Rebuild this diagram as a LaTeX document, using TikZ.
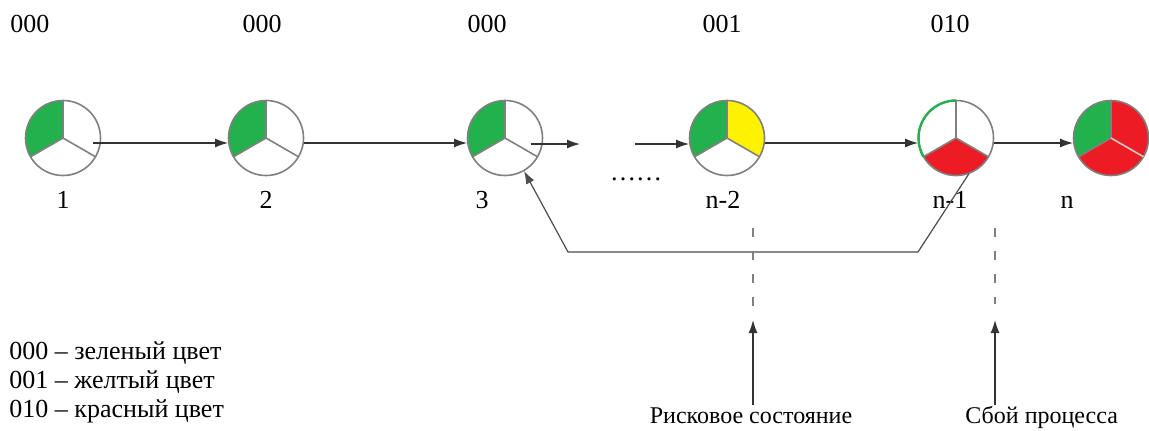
\documentclass[tikz,border=0pt]{standalone}
\usepackage{fontspec}
\setmainfont{Liberation Serif}
\usetikzlibrary{arrows.meta}
\definecolor{stgreen}{RGB}{34,177,76}
\definecolor{stred}{RGB}{237,28,36}
\definecolor{styellow}{RGB}{255,242,0}
\tikzset{state/.style={circle, minimum size=37.5pt, inner sep=0pt}, arr/.style={-{Latex[length=6.5pt,width=4.5pt]}, black!80, line width=0.7pt}, rim/.style={gray, line width=0.8pt}, txt/.style={font=\fontsize{13}{15}\selectfont, inner sep=0pt, anchor=base}, note/.style={font=\fontsize{12}{14}\selectfont, inner sep=0pt, anchor=base}, cut/.style={gray, line width=0.7pt, dash pattern=on 4.5pt off 7pt}}

\begin{document}
\begin{tikzpicture}[x=0.5pt,y=-0.5pt]
    \def\rad{18.75pt}
    \useasboundingbox (0,0) rectangle (1149,430);
    \node [state] (s1) at (63,138) {};
    \node [state] (s2) at (266,138) {};
    \node [state] (s3) at (505,138) {};
    \node [state] (s4) at (727,138) {};
    \node [state] (s5) at (956,138) {};
    \node [state] (s6) at (1111,138) {};
    \fill [stgreen] (s1.center) -- ++(90:\rad) arc[start angle=90, end angle=210, radius=\rad] -- cycle;
    \fill [stgreen] (s2.center) -- ++(90:\rad) arc[start angle=90, end angle=210, radius=\rad] -- cycle;
    \fill [stgreen] (s3.center) -- ++(90:\rad) arc[start angle=90, end angle=210, radius=\rad] -- cycle;
    \fill [stgreen] (s4.center) -- ++(90:\rad) arc[start angle=90, end angle=210, radius=\rad] -- cycle;
    \fill [styellow] (s4.center) -- ++(-30:\rad) arc[start angle=-30, end angle=90, radius=\rad] -- cycle;
    \fill [stred] (s5.center) -- ++(210:\rad) arc[start angle=210, end angle=330, radius=\rad] -- cycle;
    \fill [stgreen] (s6.center) -- ++(90:\rad) arc[start angle=90, end angle=210, radius=\rad] -- cycle;
    \fill [stred] (s6.center) -- ++(210:\rad) arc[start angle=210, end angle=450, radius=\rad] -- cycle;
    \draw [rim] (s1.center) circle (\rad) (s1.center) -- ++(90:\rad) (s1.center) -- ++(210:\rad) (s1.center) -- ++(-30:\rad);
    \draw [rim] (s2.center) circle (\rad) (s2.center) -- ++(90:\rad) (s2.center) -- ++(210:\rad) (s2.center) -- ++(-30:\rad);
    \draw [rim] (s3.center) circle (\rad) (s3.center) -- ++(90:\rad) (s3.center) -- ++(210:\rad) (s3.center) -- ++(-30:\rad);
    \draw [rim] (s4.center) circle (\rad) (s4.center) -- ++(90:\rad) (s4.center) -- ++(210:\rad) (s4.center) -- ++(-30:\rad);
    \draw [rim] (s5.center) circle (\rad) (s5.center) -- ++(90:\rad) (s5.center) -- ++(210:\rad) (s5.center) -- ++(-30:\rad);
    \draw [stgreen, line width=1.2pt] (s5.center) ++(90:\rad) arc[start angle=90, end angle=210, radius=\rad];
    \draw [rim] (s6.center) circle (\rad) (s6.center) -- ++(90:\rad) (s6.center) -- ++(210:\rad);
    \draw [gray!40, line width=0.8pt] (s6.center) -- ++(-30:\rad);
    \node [txt] (t1) at (30,32) {000};
    \node [txt] (t2) at (262,32) {000};
    \node [txt] (t3) at (487,32) {000};
    \node [txt] (t4) at (722,32) {001};
    \node [txt] (t5) at (950,32) {010};
    \node [txt] (n1) at (63,208) {1};
    \node [txt] (n2) at (266,208) {2};
    \node [txt] (n3) at (482,208) {3};
    \node [txt] (n4) at (723,208) {n-2};
    \node [txt] (n5) at (950,208) {n-1};
    \node [txt] (n6) at (1067,208) {n};
    \node [txt] (gap) at (636,180) {\ldots\ldots};
    \coordinate (gapin) at (580,144);
    \coordinate (gapout) at (635,144);
    \draw [arr] ([xshift=-4pt,yshift=-2.5pt]s1.east) -- ([yshift=-2.5pt]s2.west);
    \draw [arr] ([yshift=-2.5pt]s2.east) -- ([yshift=-2.5pt]s3.west);
    \draw [arr] ([xshift=-6pt,yshift=-3pt]s3.east) -- (gapin);
    \draw [arr] (gapout) -- ([yshift=-3pt]s4.west);
    \draw [arr] ([yshift=-2.5pt]s4.east) -- ([yshift=-2.5pt]s5.west);
    \draw [arr] ([yshift=-2.5pt]s5.east) -- ([yshift=-2.5pt]s6.west);
    \coordinate (back1) at (918,252);
    \coordinate (back2) at (568,252);
    \draw [arr, black!70, line width=0.6pt] (s5.-70) -- (back1) -- (back2) -- (s3.-60);
    \node [note] (risk) at (751,423) {Рисковое состояние};
    \node [note, anchor=base west] (fail) at (965,423) {Сбой процесса};
    \coordinate (riskcut) at (753,228);
    \coordinate (risktip) at (753,320);
    \coordinate (riskfoot) at (753,405);
    \coordinate (failcut) at (995,228);
    \coordinate (failtip) at (995,320);
    \coordinate (failfoot) at (995,405);
    \draw [cut] (riskcut) -- ([yshift=4pt]risktip);
    \draw [cut] (failcut) -- ([yshift=8pt]failtip);
    \draw [arr] (riskfoot) -- (risktip);
    \draw [arr] (failfoot) -- (failtip);
    \node [txt, anchor=base west] (leg1) at (9,359) {000 -- зеленый цвет};
    \node [txt, anchor=base west] (leg2) at (9,388) {001 -- желтый цвет};
    \node [txt, anchor=base west] (leg3) at (9,417) {010 -- красный цвет};
\end{tikzpicture}
\end{document}
